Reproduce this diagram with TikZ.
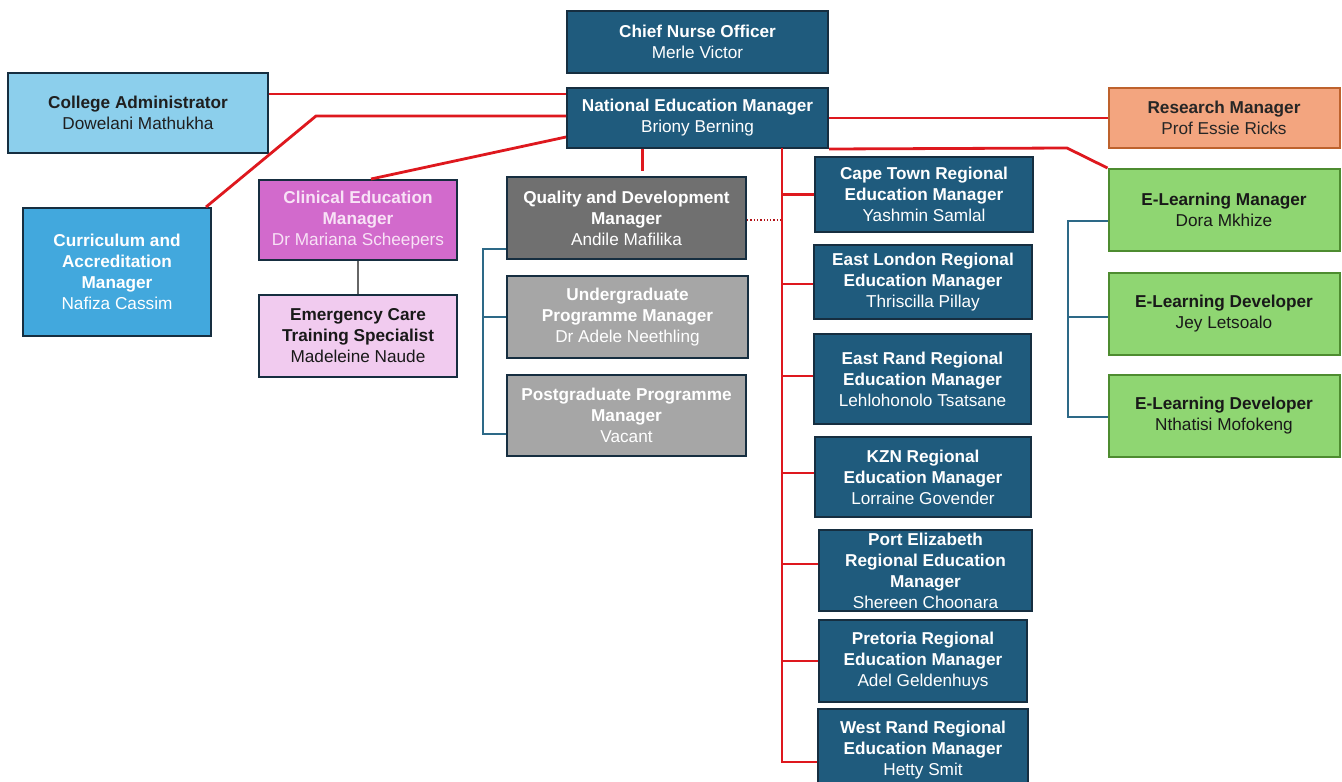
\documentclass[tikz,border=0pt]{standalone}
\usepackage{fontspec}
\setmainfont{Liberation Sans}
\usetikzlibrary{calc}

\definecolor{navy}{RGB}{31,91,125}
\definecolor{navyedge}{RGB}{22,46,64}
\definecolor{skyfill}{RGB}{140,207,236}
\definecolor{cyanfill}{RGB}{66,168,221}
\definecolor{plumfill}{RGB}{210,106,204}
\definecolor{plumtext}{RGB}{248,226,246}
\definecolor{pinkfill}{RGB}{241,203,239}
\definecolor{darkgrey}{RGB}{112,112,112}
\definecolor{midgrey}{RGB}{166,166,166}
\definecolor{salmon}{RGB}{243,165,127}
\definecolor{rust}{RGB}{190,98,45}
\definecolor{leaf}{RGB}{143,214,114}
\definecolor{leafedge}{RGB}{78,140,48}
\definecolor{orgred}{RGB}{222,24,30}
\definecolor{steel}{RGB}{45,105,135}

\tikzset{
	post/.style={draw=navyedge, line width=2pt, inner sep=0pt, align=center,
		font=\fontsize{17.2pt}{21pt}\selectfont},
	navypost/.style={post, fill=navy, text=white},
	skypost/.style={post, fill=skyfill, text=black!88},
	cyanpost/.style={post, fill=cyanfill, text=white},
	plumpost/.style={post, fill=plumfill, text=plumtext},
	pinkpost/.style={post, fill=pinkfill, text=black!90},
	darkpost/.style={post, fill=darkgrey, text=white},
	greypost/.style={post, fill=midgrey, text=white},
	salmonpost/.style={post, draw=rust, fill=salmon, text=black!85},
	leafpost/.style={post, draw=leafedge, fill=leaf, text=black!90},
	redline/.style={line width=2.8pt, color=orgred},
	dotline/.style={line width=1.3pt, color=orgred!80!black, dotted},
	thinline/.style={line width=1.5pt, color=steel},
	greyline/.style={line width=1.5pt, color=black!60},
}

\begin{document}
\begin{tikzpicture}[x=1pt, y=-1pt]
		%%%%% START %%%%%
		\useasboundingbox (0, 0) rectangle (1342, 782);
		\clip (0, 0) rectangle (1342, 782);
		
		% top of the tree
		\node[navypost, minimum width=261pt, minimum height=62pt] (cno) at (697.5, 42) {\textbf{Chief Nurse Officer}\\Merle Victor};
		\node[navypost, minimum width=261pt, minimum height=60pt] (nem) at (697.5, 118) {\textbf{National Education Manager}\\Briony Berning};
		
		% left side
		\node[skypost, minimum width=260pt, minimum height=80pt] (coll) at (138, 113) {\textbf{College Administrator}\\Dowelani Mathukha};
		\node[cyanpost, minimum width=188pt, minimum height=128pt] (curr) at (117, 272) {\textbf{Curriculum and}\\\textbf{Accreditation}\\\textbf{Manager}\\Nafiza Cassim};
		\node[plumpost, minimum width=198pt, minimum height=80pt] (clin) at (358, 220) {\textbf{Clinical Education}\\\textbf{Manager}\\Dr Mariana Scheepers};
		\node[pinkpost, minimum width=198pt, minimum height=82pt] (emer) at (358, 336) {\textbf{Emergency Care}\\\textbf{Training Specialist}\\Madeleine Naude};
		
		% quality group
		\node[darkpost, minimum width=239pt, minimum height=82pt] (qual) at (626.5, 218) {\textbf{Quality and Development}\\\textbf{Manager}\\Andile Mafilika};
		\node[greypost, minimum width=241pt, minimum height=82pt] (ugrad) at (627.5, 317) {\textbf{Undergraduate}\\\textbf{Programme Manager}\\Dr Adele Neethling};
		\node[greypost, minimum width=239pt, minimum height=81pt] (pgrad) at (626.5, 415.5) {\textbf{Postgraduate Programme}\\\textbf{Manager}\\Vacant};
		
		% regional managers
		\node[navypost, minimum width=218pt, minimum height=75pt] (cape) at (924, 194.5) {\textbf{Cape Town Regional}\\\textbf{Education Manager}\\Yashmin Samlal};
		\node[navypost, minimum width=218pt, minimum height=74pt] (eldn) at (923, 282) {\textbf{East London Regional}\\\textbf{Education Manager}\\Thriscilla Pillay};
		\node[navypost, minimum width=217pt, minimum height=90pt] (erand) at (922.5, 379) {\textbf{East Rand Regional}\\\textbf{Education Manager}\\Lehlohonolo Tsatsane};
		\node[navypost, minimum width=216pt, minimum height=80pt] (kzn) at (923, 477) {\textbf{KZN Regional}\\\textbf{Education Manager}\\Lorraine Govender};
		\node[navypost, minimum width=213pt, minimum height=81pt] (pe) at (925.5, 570.5) {\textbf{Port Elizabeth}\\\textbf{Regional Education}\\\textbf{Manager}\\Shereen Choonara};
		\node[navypost, minimum width=208pt, minimum height=82pt] (pret) at (923, 661) {\textbf{Pretoria Regional}\\\textbf{Education Manager}\\Adel Geldenhuys};
		\node[navypost, minimum width=210pt, minimum height=82pt] (wrand) at (923, 750) {\textbf{West Rand Regional}\\\textbf{Education Manager}\\Hetty Smit};
		
		% right side
		\node[salmonpost, minimum width=231pt, minimum height=60pt] (res) at (1224, 118) {\textbf{Research Manager}\\Prof Essie Ricks};
		\node[leafpost, minimum width=231pt, minimum height=82pt] (elm) at (1224, 210) {\textbf{E-Learning Manager}\\Dora Mkhize};
		\node[leafpost, minimum width=231pt, minimum height=82pt] (eld1) at (1224, 314) {\textbf{E-Learning Developer}\\Jey Letsoalo};
		\node[leafpost, minimum width=231pt, minimum height=82pt] (eld2) at (1224, 416) {\textbf{E-Learning Developer}\\Nthatisi Mofokeng};
		
		% red reporting lines
		\coordinate (collout) at ([yshift=19pt]coll.east);
		\draw[redline] (collout) -- (collout -| nem.west);
		
		\coordinate (currbend) at (316, 116);
		\draw[redline] ([xshift=-6pt]curr.north east) -- (currbend) -- (currbend -| nem.west);
		
		\draw[redline] ([xshift=13pt]clin.north) -- ([yshift=-19pt]nem.west);
		
		\coordinate (qtop) at ([xshift=16pt, yshift=5pt]qual.north);
		\draw[redline] (qtop |- nem.south) -- (qtop);
		
		\draw[redline] (nem.east) -- (res.west);
		\coordinate (elbend) at (1067, 148);
		\draw[redline] (nem.south east) -- (elbend) -- (elm.north west);
		
		% regional trunk
		\coordinate (trunk) at (782, 148);
		\coordinate (wtip) at ([yshift=-12pt]wrand.west);
		\draw[redline] (trunk) -- (wtip -| trunk) -- (wtip);
		\foreach \reg/\dy in {cape/0, eldn/-2, erand/3, kzn/4, pe/6.5, pret/0}{
			\coordinate (tip) at ([yshift=\dy pt]\reg.west);
			\draw[redline] (tip -| trunk) -- (tip);
		}
		
		\coordinate (qdot) at ([yshift=-2pt]qual.east);
		\draw[dotline] (qdot) -- (qdot -| trunk);
		
		\draw[greyline] (clin.south) -- (emer.north);
		
		% thin brackets
		\coordinate (qbar) at (483, 0);
		\coordinate (qa) at ([yshift=-31pt]qual.west);
		\coordinate (qc) at ([yshift=-18.5pt]pgrad.west);
		\draw[thinline] (qa) -- (qa -| qbar) -- (qc -| qbar) -- (qc);
		\draw[thinline] (ugrad.west -| qbar) -- (ugrad.west);
		
		\coordinate (ebar) at (1068, 0);
		\coordinate (ea) at ([yshift=-11pt]elm.west);
		\coordinate (ec) at ([yshift=-1pt]eld2.west);
		\coordinate (eb) at ([yshift=-3pt]eld1.west);
		\draw[thinline] (ea) -- (ea -| ebar) -- (ec -| ebar) -- (ec);
		\draw[thinline] (eb -| ebar) -- (eb);
		
		%%%%% END %%%%%
\end{tikzpicture}
\end{document}
